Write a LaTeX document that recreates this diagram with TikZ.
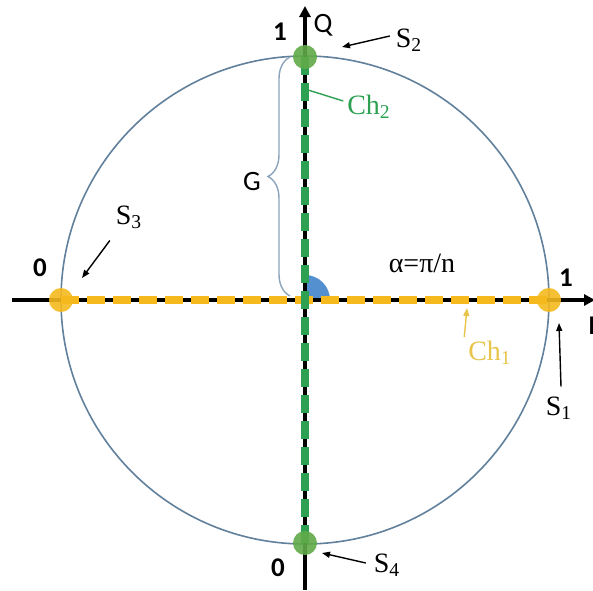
\documentclass[tikz,border=0pt]{standalone}
\usepackage{fontspec}
\setmainfont{Liberation Serif}
\setsansfont{Carlito}
\usepackage{xcolor}
\usetikzlibrary{arrows.meta,decorations.pathreplacing}

\definecolor{chyellow}{RGB}{245,185,30}
\definecolor{chgreen}{RGB}{46,160,82}
\definecolor{dotgreen}{RGB}{96,170,72}
\definecolor{ringblue}{RGB}{96,128,155}
\definecolor{bracegray}{RGB}{140,165,188}
\definecolor{sectorblue}{RGB}{84,144,208}
\definecolor{lblyellow}{RGB}{232,196,74}

\begin{document}
\begin{tikzpicture}[x=0.5pt,y=0.5pt,
  every node/.style={inner sep=0pt, outer sep=0pt},
  axis/.style={line width=2pt, -{Triangle[length=5.5pt,width=5.5pt]}},
  chan/.style={line width=4.2pt, dash pattern=on 9pt off 4pt},
  dot/.style={circle, minimum size=12pt},
  sname/.style={font=\fontsize{14}{16}\selectfont},
  bit/.style={font=\sffamily\bfseries\fontsize{13.5}{15}\selectfont},
  axname/.style={font=\sffamily\fontsize{14}{16}\selectfont},
  pointer/.style={line width=0.7pt, -{Triangle[length=4pt,width=3pt]}}]
\useasboundingbox (-305,-290) rectangle (288,300);
\coordinate (o) at (0,0);
% circle and axes
\draw[ringblue, line width=0.8pt] (o) circle (244);
\fill[sectorblue] (o) -- (25,0) arc (0:90:25) -- cycle;
\draw[axis] (-293,0) -- (290,0);
\draw[axis] (0,-290) -- (0,294);
% states on the circle
\node[dot] (s1) at (244,0) {};
\node[dot] (s2) at (0,243) {};
\node[dot] (s3) at (-244,0) {};
\node[dot] (s4) at (0,-243) {};
% the two channels
\draw[chan, chyellow] (s3.center) -- (s1.center);
\draw[chan, chgreen] (s2.center) -- (s4.center);
\fill[chyellow, opacity=0.9] (s1) circle (12) (s3) circle (12);
\fill[dotgreen, opacity=0.9] (s2) circle (12) (s4) circle (12);
% the gap G
\draw[bracegray, line width=0.7pt, decorate, decoration={brace,amplitude=11pt}] (-15,4) -- (-15,243);
\node[axname] (g) at (-53,118) {G};
% labels
\node[bit] (one1) at (261,22) {1};
\node[bit] (one2) at (-25,268) {1};
\node[bit] (zero3) at (-265,32) {0};
\node[bit] (zero4) at (-27,-268) {0};
\node[axname] (q) at (18,275) {Q};
\node[bit] (i) at (287,-26) {I};
\node[sname] (alpha) at (117,37) {α=π/n};
\node[sname] (ls1) at (254,-108) {S\textsubscript{1}};
\node[sname] (ls2) at (104,260) {S\textsubscript{2}};
\node[sname] (ls3) at (-176,83) {S\textsubscript{3}};
\node[sname] (ls4) at (82,-265) {S\textsubscript{4}};
\node[sname, chgreen] (ch2) at (64,193) {Ch\textsubscript{2}};
\node[sname, lblyellow] (ch1) at (185,-53) {Ch\textsubscript{1}};
% pointers
\coordinate (p1) at (254,-23);
\coordinate (p2) at (37,253);
\coordinate (p3) at (-223,22);
\coordinate (p4) at (17,-253);
\coordinate (pc1) at (162,-8);
\coordinate (pc2) at (3,210);
\draw[pointer] ([xshift=1pt,yshift=5pt]ls1.north) -- (p1);
\draw[pointer] ([xshift=-3pt,yshift=2pt]ls2.west) -- (p2);
\draw[pointer] ([xshift=-3pt,yshift=-6pt]ls3.south west) -- (p3);
\draw[pointer] ([xshift=-4pt,yshift=1pt]ls4.west) -- (p4);
\draw[pointer, lblyellow] ([xshift=-2pt,yshift=2pt]ch1.north west) -- (pc1);
\draw[chgreen, line width=0.7pt] ([xshift=-2pt,yshift=3pt]ch2.west) -- (pc2);
\end{tikzpicture}
\end{document}
